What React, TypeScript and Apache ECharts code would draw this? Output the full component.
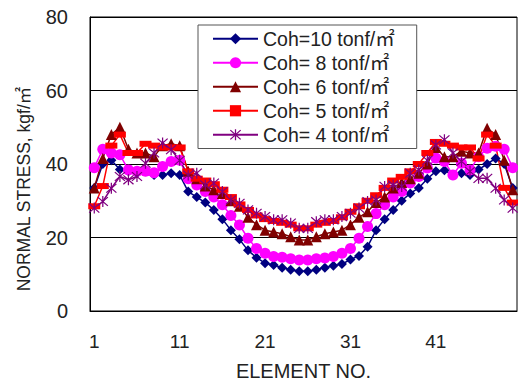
import React, { useEffect, useRef } from "react";
import * as echarts from "echarts";

const categories: string[] = Array.from({ length: 50 }, (_, i) => String(i + 1));

const seriesNames = [
  "Coh=10 tonf/㎡",
  "Coh= 8 tonf/㎡",
  "Coh= 6 tonf/㎡",
  "Coh= 5 tonf/㎡",
  "Coh= 4 tonf/㎡",
];

const coh10 = [
  33.5, 40, 41, 38.5, 38, 37.5, 38, 37, 37, 37.5,
  37, 32.5, 31, 29.5, 27.5, 25, 22, 19.5, 16.5, 14.5,
  13, 12.5, 11.8, 11.2, 10.8, 10.8, 11.2, 11.8, 12.3, 12.8,
  14, 15, 17.5, 22, 25, 27.5, 30, 32, 33.5, 36,
  38, 38.3, 37, 37.5, 37, 38.5, 40, 41.5, 40, 33.5,
];
const coh8 = [
  39, 44, 43, 42.5, 38.4, 38, 38, 37.6, 39.3, 40.7,
  41, 36, 34.3, 32.5, 31, 28.9, 26, 23.4, 19.8, 17,
  15.7, 14.8, 14.6, 14.2, 13.9, 13.9, 14.2, 14.4, 14.8, 15.7,
  17, 19.8, 23, 26.5, 28.9, 31, 32.5, 34.8, 36.6, 38.9,
  41.6, 40.7, 37, 40.2, 38.4, 42, 44.3, 44.8, 44, 39,
];
const coh6 = [
  33.5, 41.5, 48, 50, 44, 43, 43, 42, 45, 45.5,
  45, 38, 36, 34, 33, 32, 30, 28.5, 25.5, 23.5,
  22, 21.5, 21, 20.2, 19.3, 19.3, 20.2, 21, 21.5, 22,
  23.5, 25.5, 27, 29.5, 31, 33.5, 35, 36, 37.5, 40,
  44.5, 42, 42, 43.5, 43, 43, 49.7, 48, 41, 33,
];
const coh5 = [
  28.5, 34, 45, 48, 43, 43, 45.5, 45, 44.5, 44.5,
  44.5, 38, 36, 35.5, 34.5, 33, 31, 29, 27.5, 26,
  25, 24.5, 24, 23.5, 22.5, 22.5, 23.5, 24, 24.5, 25.5,
  27, 28.5, 30, 31.5, 33.5, 35.5, 36.5, 38, 40, 43,
  46, 45.5, 45, 44.5, 44.5, 41.5, 48, 45, 33.5, 29.5,
];
const coh4 = [
  28, 29.8, 33.4, 36.6, 35.7, 36.6, 40.2, 43, 45.7, 43.9,
  41, 37, 37.5, 34.3, 34.8, 32.5, 30.2, 29.3, 27.5, 26.6,
  25.7, 24.8, 24.8, 23.9, 22.5, 22.5, 24.3, 24.8, 24.8, 25.7,
  26.6, 28, 29.8, 30.2, 33.9, 34.3, 33.9, 37.5, 38.4, 41,
  45.2, 46.6, 43, 40.7, 38, 36.1, 36.1, 33.4, 30.2, 28,
];

const yTicks = [0, 20, 40, 60, 80];

const starPath =
  "path://M4.5 0H5.5V10H4.5Z M0.6 1.3L1.3 0.6L9.4 8.7L8.7 9.4Z M8.7 0.6L9.4 1.3L1.3 9.4L0.6 8.7Z";

const FONT = "'Liberation Sans', 'Noto Sans CJK KR', sans-serif";

export default function App() {
  const ref = useRef<HTMLDivElement>(null);
  useEffect(() => {
    if (!ref.current) return;
    const chart = echarts.init(ref.current, undefined, { renderer: "svg" });
    const mk = (
      name: string,
      data: number[],
      color: string,
      symbol: string,
      symbolSize: number | number[]
    ) => ({
      name,
      type: "line",
      data,
      symbol,
      symbolSize,
      showAllSymbol: true,
      lineStyle: { color, width: 1.5 },
      itemStyle: { color, borderWidth: 0 },
      emphasis: { disabled: true },
    });
    chart.setOption({
      animation: false,
      textStyle: { fontFamily: FONT },
      grid: {
        left: 90,
        right: 1,
        top: 17,
        bottom: 76,
        show: true,
        borderColor: "#000",
        borderWidth: 1,
      },
      legend: {
        orient: "vertical",
        left: 198,
        top: 25,
        data: seriesNames,
        itemWidth: 45,
        itemHeight: 14,
        itemGap: 4.5,
        padding: [4, 22, 4, 14],
        backgroundColor: "#fff",
        borderColor: "#555",
        borderWidth: 1,
        borderRadius: 0,
        textStyle: { fontSize: 19.5, color: "#222", fontFamily: FONT },
      },
      xAxis: {
        type: "category",
        data: categories,
        boundaryGap: true,
        name: "ELEMENT NO.",
        nameLocation: "middle",
        nameGap: 50,
        nameTextStyle: { fontSize: 20, color: "#222" },
        axisLine: { lineStyle: { color: "#000" } },
        axisTick: { inside: true, length: 4, interval: 0, lineStyle: { color: "#000" } },
        axisLabel: { interval: 9, fontSize: 19, color: "#222", margin: 21 },
        splitLine: { show: false },
      },
      yAxis: {
        type: "value",
        min: yTicks[0],
        max: yTicks[yTicks.length - 1],
        interval: 20,
        name: "NORMAL STRESS, kgf/㎡",
        nameLocation: "middle",
        nameGap: 57,
        nameTextStyle: { fontSize: 17.5, color: "#222", padding: [0, 50, 0, 0] },
        axisLine: { show: true, lineStyle: { color: "#000" } },
        axisTick: { show: false },
        axisLabel: { fontSize: 20, color: "#222", margin: 22 },
        splitLine: { show: true, lineStyle: { color: "#000", width: 1 } },
      },
      series: [
        mk(seriesNames[0], coh10, "#000080", "diamond", 10),
        mk(seriesNames[1], coh8, "#FF00FF", "circle", 11),
        mk(seriesNames[2], coh6, "#800000", "triangle", 11),
        mk(seriesNames[3], coh5, "#FF0000", "rect", [12, 6]),
        mk(seriesNames[4], coh4, "#800080", starPath, 11),
      ],
    });
    return () => chart.dispose();
  }, []);
  return (
    <div
      ref={ref}
      style={{ position: "absolute", left: 0, top: 0, width: 518, height: 387 }}
    />
  );
}
